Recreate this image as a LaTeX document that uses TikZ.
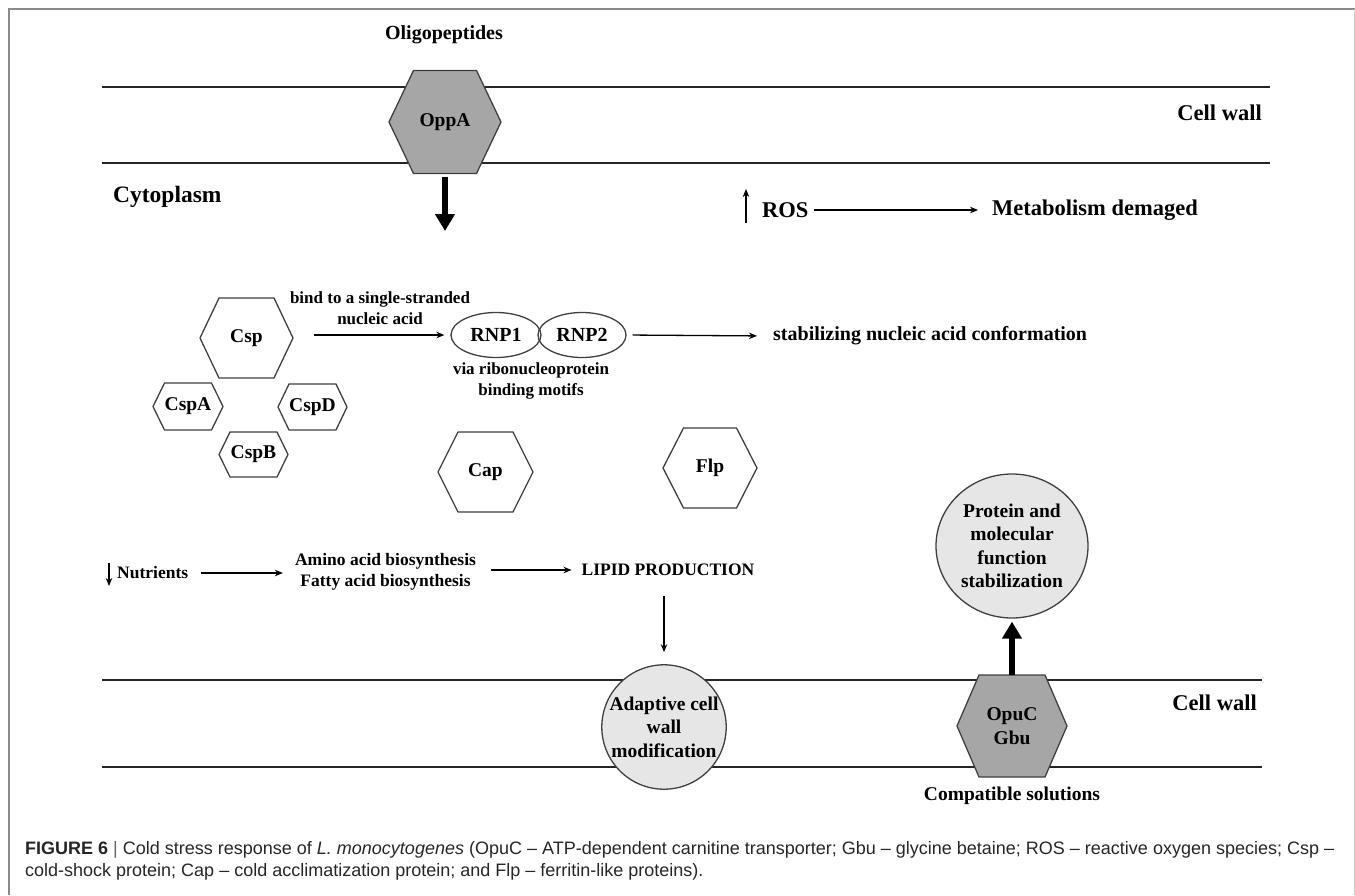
\documentclass[tikz,border=0pt]{standalone}
\usepackage{fontspec}
\setmainfont{Liberation Serif}
\newfontfamily\capfont{Liberation Sans}
\usetikzlibrary{arrows.meta,positioning,calc,shapes.geometric}
\definecolor{transgray}{HTML}{A6A6A6}
\definecolor{bubblegray}{HTML}{E6E6E6}
\definecolor{framegray}{HTML}{8A8A8A}

\newcommand{\fsz}[2]{\fontsize{#1}{#2}\selectfont}
% hexagon with a named node inside: name, x, y, half width, half height, half top edge, fill, text
\newcommand{\hexcell}[8]{%
  \draw[hexline, fill=#7] ({#2-#4},{#3}) -- ({#2-#6},{#3-#5}) -- ({#2+#6},{#3-#5})
    -- ({#2+#4},{#3}) -- ({#2+#6},{#3+#5}) -- ({#2-#6},{#3+#5}) -- cycle;
  \node[hexlbl, minimum width={2*#4}, minimum height={2*#5}] (#1) at (#2,#3) {#8};}

\tikzset{
  wall/.style={line width=2.6pt, black!85},
  hexline/.style={line width=1.3pt, draw=black!75},
  hexlbl/.style={inner sep=0pt, align=center, font=\bfseries\fsz{19.5}{24}},
  lbl/.style={inner sep=2pt, align=center, font=\bfseries\fsz{20}{24}},
  thinarrow/.style={-{Stealth[length=8pt,width=6.5pt]}, line width=1.3pt},
  fatarrow/.style={-{Triangle[length=17pt,width=19pt]}, line width=6pt},
  bubble/.style={draw=black!75, line width=1.3pt, fill=bubblegray, align=center, inner sep=0pt, font=\bfseries\fsz{19.5}{23.5}},
}

\begin{document}
\begin{tikzpicture}[x=1pt,y=-1pt]
\useasboundingbox (0,0) rectangle (1355,895);
% frame of the figure
\draw[framegray, line width=1.2pt] (9,895) -- (9,9) -- (1355,9);
\draw[black!20, line width=1pt] (1354,9) -- (1354,895);

% cell walls
\draw[wall] (102,87) -- (1270,87);
\draw[wall] (102,163) -- (1270,163);
\draw[wall] (102,680) -- (1262,680);
\draw[wall] (102,767) -- (1262,767);

% upper wall
\node[lbl] (oligo) at (444,35) {Oligopeptides};
\hexcell{opp}{445}{122}{56}{51.5}{31.5}{transgray}{OppA}
\node[lbl, font=\bfseries\fsz{22.5}{26}, anchor=east] (wall1) at (1264,113) {Cell wall};
\node[lbl, font=\bfseries\fsz{23.5}{28}, anchor=west] (cyto) at (111,197) {Cytoplasm};
\coordinate (oppin) at (445,231);
\draw[fatarrow, shorten <=3pt] (opp.south) -- (oppin);

% ROS
\node[lbl, font=\bfseries\fsz{22.5}{26}, anchor=west] (ros) at (760,210) {ROS};
\node[lbl, font=\bfseries\fsz{22.5}{26}, anchor=west] (meta) at (990,210) {Metabolism demaged};
\draw[thinarrow, shorten <=3pt, shorten >=12pt] (ros.east) -- (meta.west);
\draw[thinarrow] ($(ros.west)+(-14,13)$) -- ++(0,-34);

% cold-shock proteins
\hexcell{csp}{246.5}{338}{46.5}{40}{27.5}{white}{Csp}
\hexcell{cspa}{188}{406.5}{35}{23.5}{23.5}{white}{CspA}
\hexcell{cspd}{312.5}{407}{34.5}{23}{23.5}{white}{CspD}
\hexcell{cspb}{253.5}{454.5}{34.5}{22.5}{23.5}{white}{CspB}
\node[lbl, font=\bfseries\fsz{17}{21}] (bind) at (380,308) {bind to a single-stranded\\nucleic acid};
\node[ellipse, draw=black!75, line width=1.3pt, minimum width=90pt, minimum height=45pt, inner sep=0pt, font=\bfseries\fsz{20}{24}] (rnpa) at (496,335) {RNP1};
\node[ellipse, draw=black!75, line width=1.3pt, minimum width=88pt, minimum height=45pt, inner sep=0pt, font=\bfseries\fsz{20}{24}] (rnpb) at (582,335) {RNP2};
\draw[thinarrow, shorten <=21pt, shorten >=6pt] (rnpa.west -| csp.east) -- (rnpa.west);
\node[lbl, font=\bfseries\fsz{17}{21}] (via) at (531,381) {via ribonucleoprotein\\binding motifs};
\node[lbl, anchor=west] (stab) at (771,336) {stabilizing nucleic acid conformation};
\draw[thinarrow, shorten <=6pt, shorten >=14pt] (rnpb.east) -- (stab.west);

\hexcell{cap}{485.5}{472}{47.5}{40}{27.5}{white}{Cap}
\hexcell{flp}{710}{468}{47}{40}{26.5}{white}{Flp}

% nutrients and lipids
\node[lbl, font=\bfseries\fsz{17.5}{20.5}, anchor=west] (nutr) at (115,573) {Nutrients};
\draw[thinarrow] ($(nutr.west)+(-6,-10)$) -- ++(0,23);
\node[lbl, font=\bfseries\fsz{17.5}{20.5}] (amino) at (385.5,572) {Amino acid biosynthesis\\Fatty acid biosynthesis};
\draw[thinarrow, shorten <=11pt, shorten >=10pt] (nutr.east) -- (nutr.east -| amino.west);
\node[lbl, font=\bfseries\fsz{17.5}{20.5}] (lipid) at (668,570) {LIPID PRODUCTION};
\draw[thinarrow, shorten <=13pt, shorten >=8pt] (amino.east |- lipid.west) -- (lipid.west);
\node[bubble, circle, minimum size=124pt] (adapt) at (664,727) {Adaptive cell\\wall\\modification};
\draw[thinarrow, shorten <=18pt, shorten >=12pt] (adapt.north |- lipid.south) -- (adapt.north);

% compatible solutes
\node[bubble, ellipse, minimum width=152pt, minimum height=144pt] (prot) at (1012,546) {Protein and\\molecular\\function\\stabilization};
\hexcell{opu}{1012}{726}{55}{51}{33}{transgray}{OpuC\\Gbu}
\draw[fatarrow, shorten >=3pt] (opu.north) -- (prot.south);
\node[lbl, anchor=east, font=\bfseries\fsz{22.5}{26}] (wall2) at (1259,703) {Cell wall};
\node[lbl, font=\bfseries\fsz{19.5}{23}] (compat) at (1012,796) {Compatible solutions};

% caption
\node[anchor=north west, inner sep=0pt, align=left, text=black!85, font=\capfont\fsz{18}{22}] (caption) at (25,841)
  {\textbf{FIGURE 6} {\color{black!60}\textbar} Cold stress response of \textit{L. monocytogenes} (OpuC – ATP-dependent carnitine transporter; Gbu – glycine betaine; ROS – reactive oxygen species; Csp –\\cold-shock protein; Cap – cold acclimatization protein; and Flp – ferritin-like proteins).};
\end{tikzpicture}
\end{document}
